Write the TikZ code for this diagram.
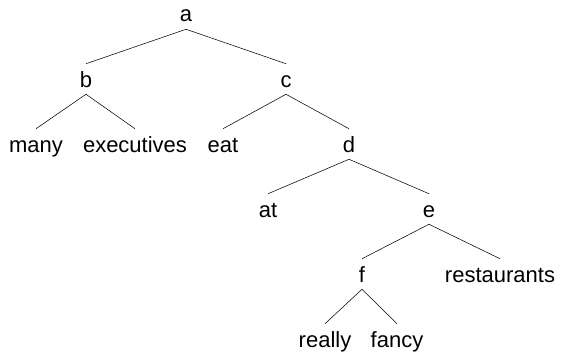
\documentclass[tikz,border=0pt]{standalone}
\usepackage{fontspec}
\setmainfont{Liberation Sans}
\usepackage{tikz}
\tikzstyle{every node}=[anchor=base,inner xsep=0pt,inner ysep=1.5pt,
  text height=15.75pt,text depth=3.75pt,font=\fontsize{16.5}{20}\selectfont]
\tikzstyle{branch}=[thin,black]

\begin{document}
\begin{tikzpicture}[x=0.75pt,y=-0.75pt]
      \useasboundingbox (0,0) rectangle (566,360);
      \node (a) at (186,22) {a};
      \node (b) at (86,87) {b};
      \node (c) at (286,87) {c};
      \node (many) at (36,152) {many};
      \node (executives) at (135,152) {executives};
      \node (eat) at (223,152) {eat};
      \node (d) at (349,152) {d};
      \node (at) at (268,217) {at};
      \node (e) at (429,217) {e};
      \node (f) at (362,282) {f};
      \node (restaurants) at (500,282) {restaurants};
      \node (really) at (325,347) {really};
      \node (fancy) at (397,347) {fancy};
      \draw [branch] (b.north) -- (a.south) -- (c.north);
      \draw [branch] (many.north) -- (b.south) -- (executives.north);
      \draw [branch] (eat.north) -- (c.south) -- (d.north);
      \draw [branch] (at.north) -- (d.south) -- (e.north);
      \draw [branch] (f.north) -- (e.south) -- (restaurants.north);
      \draw [branch] (really.north) -- (f.south) -- (fancy.north);
\end{tikzpicture}
\end{document}
